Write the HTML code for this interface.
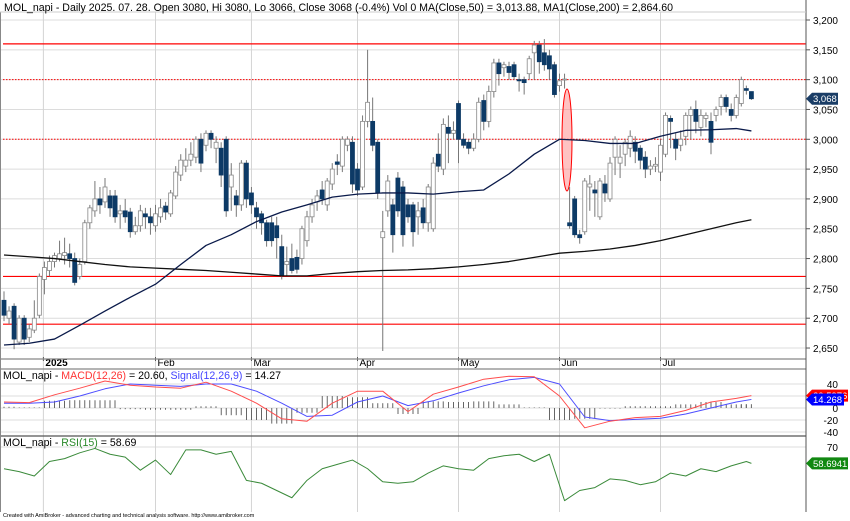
<!DOCTYPE html>
<html><head><meta charset="utf-8">
<style>
body{margin:0;background:#fff;}
svg{display:block;font-family:"Liberation Sans",sans-serif;}
</style></head>
<body>
<svg id="c" width="850" height="521" viewBox="0 0 850 521"></svg>
<script>
const opens=[2730,2700,2720,2660,2700,2668,2680,2705,2765,2780,2795,2800,2805,2808,2800,2770,2795,2860,2880,2900,2895,2905,2905,2875,2880,2878,2845,2855,2875,2870,2855,2870,2888,2875,2905,2940,2955,2965,2970,3000,2990,3010,2985,2985,3000,2920,2905,2890,2960,2910,2885,2875,2860,2860,2855,2820,2790,2800,2802,2800,2830,2870,2895,2915,2890,2925,2962,2955,2990,2995,2950,2920,3030,3030,2995,2835,2880,2890,2935,2920,2890,2890,2870,2885,2860,2850,2975,2950,3020,3010,3060,3000,2995,2985,3000,3065,3030,3080,3128,3120,3122,3125,3100,3100,3110,3145,3158,3145,3140,3125,3090,3100,2860,2900,2840,2845,2920,2915,2870,2925,2900,2970,2960,2975,2985,2995,2985,2970,2950,2955,2945,2975,3035,3000,2990,3005,3040,3050,3020,3035,3030,3040,3055,3070,3050,3040,3060,3085,3080];
const closes=[2705,2712,2665,2700,2665,2682,2700,2770,2785,2795,2805,2808,2810,2800,2760,2790,2860,2885,2900,2890,2920,2885,2870,2880,2870,2845,2855,2880,2870,2860,2875,2885,2878,2910,2945,2965,2965,2975,3000,2960,3010,3000,2995,2940,2880,2940,2890,2960,2900,2890,2870,2860,2830,2830,2835,2772,2795,2780,2782,2850,2870,2890,2905,2900,2930,2950,2958,3000,3000,2925,2915,3030,3062,2990,2910,2845,2930,2840,2880,2840,2870,2845,2880,2860,2920,2960,2955,3025,3010,3015,3000,2990,2985,3000,3062,3030,3080,3128,3110,3125,3112,3105,3098,3095,3135,3158,3130,3125,3118,3075,3098,3101,2855,2840,2835,2930,2925,2910,2930,2910,2960,3000,2970,2995,3005,2980,2965,2950,2955,2958,2990,3040,3030,2985,3000,3040,3050,3030,3040,3040,2995,3050,3070,3055,3040,3070,3100,3082,3068];
const highs=[2745,2720,2725,2705,2705,2690,2730,2775,2795,2805,2810,2830,2835,2825,2810,2800,2865,2890,2930,2920,2935,2915,2915,2890,2900,2885,2870,2890,2885,2885,2890,2900,2895,2915,2955,2975,2985,2995,3005,3010,3015,3015,3005,2995,3005,2960,2915,2965,2965,2920,2895,2880,2865,2870,2870,2840,2820,2825,2815,2855,2880,2900,2915,2930,2935,2960,2975,3005,3005,3005,2960,3040,3150,3070,3000,2880,2940,2900,2945,2930,2900,2895,2895,2900,2925,2970,3010,3035,3040,3030,3065,3010,3000,3010,3070,3075,3090,3135,3135,3130,3130,3130,3110,3105,3140,3165,3165,3168,3150,3130,3110,3110,2920,2905,2848,2935,2940,2930,2935,2940,2970,3005,2990,3000,3015,3005,2990,2980,2965,2970,3000,3045,3040,3010,3015,3045,3055,3065,3050,3045,3045,3055,3075,3075,3060,3075,3105,3090,3080];
const lows=[2695,2690,2648,2655,2655,2660,2675,2700,2740,2770,2785,2795,2790,2785,2755,2765,2790,2850,2870,2875,2885,2870,2860,2850,2860,2835,2840,2845,2850,2840,2845,2860,2865,2870,2900,2930,2945,2955,2960,2945,2980,2985,2960,2920,2870,2880,2870,2880,2885,2875,2850,2840,2820,2820,2800,2765,2770,2775,2775,2790,2820,2860,2880,2890,2880,2915,2940,2945,2980,2910,2905,2915,3020,2980,2900,2645,2870,2810,2870,2820,2860,2820,2840,2850,2845,2845,2945,2940,2960,3000,2960,2985,2975,2980,2995,3015,3020,3070,3090,3105,3100,3100,3080,3075,3100,3100,3110,3115,3100,3070,3080,3085,2850,2835,2825,2840,2880,2870,2865,2895,2895,2940,2935,2955,2970,2960,2950,2935,2940,2945,2930,2970,2985,2965,2980,2990,3000,3010,3005,3020,2975,3030,3040,3045,3030,3035,3055,3075,3066];
// sampled every 5 bars (last = final bar)
const ma50=[2655,2658,2665,2688,2712,2735,2757,2790,2822,2840,2862,2878,2890,2903,2908,2910,2910,2908,2912,2915,2942,2975,3000,2998,2993,2993,3005,3015,3016,3018,3014];
const ma200=[2806,2803,2800,2795,2790,2786,2784,2782,2780,2777,2774,2771,2771,2775,2778,2780,2781,2783,2786,2790,2795,2802,2809,2812,2816,2822,2830,2840,2850,2860,2865];
const macd=[10,9,22,33,45,38,35,33,43,28,8,-18,-22,8,28,28,-6,23,35,48,53,52,20,-33,-22,-16,-14,-4,10,16,20.6];
const signal=[8,8,10,20,32,40,38,36,40,40,28,8,-14,-12,10,20,4,12,25,37,47,51,40,-15,-21,-19,-17,-10,0,10,14.27];
// sampled every 3 bars (last = final bar)
const rsi=[55,53,50,60,62,66,69,65,63,54,61,51,68,68,65,67,47,45,40,35,47,55,58,61,55,46,45,46,52,57,55,54,62,64,65,60,65,33,40,42,48,47,44,46,52,50,55,53,57,60,58.69];
const priceTicks=[3200,3150,3100,3050,3000,2950,2900,2850,2800,2750,2700,2650];
const months=["2025","Feb","Mar","Apr","May","Jun","Jul"];
const monthBars=[8,30,49,70,90,110,130];
const solidLevels=[3160,2770,2690];
const dottedLevels=[3100,3000];

const NS="http://www.w3.org/2000/svg";
const svg=document.getElementById('c');
function mk(tag,attrs,parent){const e=document.createElementNS(NS,tag);for(const k in attrs)e.setAttribute(k,attrs[k]);(parent||svg).appendChild(e);return e;}
const bx=i=>4+i*5.05;
const py=p=>20+(3200-p)*0.5964;
const my=v=>408-v*0.6;
const ry=v=>447+(70-v)*1.45;
const sampIdx=(k,step,n)=>k===n-1?148:k*step;

priceTicks.forEach(p=>{const l=mk('line',{x1:0,x2:806,y1:py(p),y2:py(p),stroke:'#dcdcdc'});});
[40,20,0,-20,-40].forEach(v=>{const l=mk('line',{x1:0,x2:806,y1:my(v),y2:my(v),stroke:'#dcdcdc'});});
mk('line',{x1:0,x2:806,y1:ry(70),y2:ry(70),stroke:'#dcdcdc'});
monthBars.forEach((b,k)=>{const x=bx(b)+(k==0?-1:0);
 const l=mk('line',{x1:x,x2:x,y1:12,y2:512,stroke:'#d4d4d4'});
 const t=mk('text',{x:x+2,y:366,'font-size':10,fill:'#000','font-weight':k==0?'bold':'normal'});t.textContent=months[k];
 mk('line',{x1:x,x2:x,y1:357,y2:361,stroke:'#555'});
});
solidLevels.forEach(p=>{const l=mk('line',{x1:3,x2:806,y1:py(p),y2:py(p),stroke:'#ff0000','stroke-width':1.2});});
dottedLevels.forEach(p=>{const l=mk('line',{x1:3,x2:806,y1:py(p),y2:py(p),stroke:'#ff0000','stroke-width':1,'stroke-dasharray':'1.5,1.5'});});
const el=mk('ellipse',{cx:567,cy:140,rx:5,ry:51,fill:'rgba(255,120,120,0.45)',stroke:'#ff0000','stroke-width':1});

closes.forEach((c,i)=>{const o=opens[i],x=bx(i),up=c>=o;
 const g=mk('g',{});
 mk('line',{x1:x,x2:x,y1:py(highs[i]),y2:py(lows[i]),stroke:'#777'},g);
 const t=py(Math.max(o,c)),h=Math.max(1,py(Math.min(o,c))-t);
 mk('rect',{x:x-2,y:t,width:4,height:h,fill:up?'#fff':'#0d3a66',stroke:up?'#888':'#0d3a66','stroke-width':0.8},g);
});
function poly(arr,step,yf,color,w,name){const pts=arr.map((v,k)=>bx(sampIdx(k,step,arr.length))+','+yf(v)).join(' ');
 const p=mk('polyline',{points:pts,fill:'none',stroke:color,'stroke-width':w,'stroke-linejoin':'round'});}
poly(ma200,5,py,'#111',1.3,'ma200-line');
poly(ma50,5,py,'#0a1a4a',1.3,'ma50-line');
macd.forEach((v,k)=>{const x=bx(sampIdx(k,5,macd.length));const d=v-signal[k];
 for(const dx of [-10,-5,0,5,10]){if(x+dx<2||x+dx>754)continue;const l=mk('line',{x1:x+dx,x2:x+dx,y1:my(0),y2:my(d),stroke:'#666','stroke-width':1});}
});
poly(signal,5,my,'#4d4dff',1,'signal-line');
poly(macd,5,my,'#ff4d4d',1,'macd-line');
poly(rsi,3,ry,'#3a8a3a',1,'rsi-line');
[[359,'#888'],[369,'#888'],[436,'#555']].forEach(([y,c])=>mk('line',{x1:0,x2:806,y1:y,y2:y,stroke:c,'stroke-width':1.3}));
mk('line',{x1:806,x2:806,y1:0,y2:512,stroke:'#555'});
mk('line',{x1:0.5,x2:0.5,y1:12,y2:512,stroke:'#888'});
mk('line',{x1:0,x2:806,y1:12,y2:12,stroke:'#ccc'});
priceTicks.forEach(p=>{mk('line',{x1:806,x2:810,y1:py(p),y2:py(p),stroke:'#555'});
 const t=mk('text',{x:838,y:py(p)+4,'font-size':10,'text-anchor':'end'});t.textContent=p.toLocaleString('en-US');});
[40,0,-20,-40].forEach(v=>{const t=mk('text',{x:838,y:my(v)+4,'font-size':10,'text-anchor':'end'});t.textContent=v;});
{const t=mk('text',{x:838,y:ry(70)+4,'font-size':10,'text-anchor':'end'});t.textContent='70';}
function tag(y,txt,bg,w,name){const g=mk('g',{});
 mk('polygon',{points:`806,${y} 812,${y-6} ${812+w},${y-6} ${812+w},${y+6} 812,${y+6}`,fill:bg},g);
 const t=mk('text',{x:813,y:y+3.5,'font-size':9.5,fill:'#fff'},g);t.textContent=txt;}
tag(py(3068),'3,068','#1a3d66',26,'last-price-tag');
tag(my(20.5976),'20.5976','#ff0000',36,'macd-value-tag');
tag(my(14.268),'14.268','#0000ff',32,'signal-value-tag');
tag(ry(58.6941),'58.6941','#118811',36,'rsi-value-tag');
</script>
<div style="position:absolute;left:4px;top:2px;font:10.6px 'Liberation Sans',sans-serif;white-space:nowrap">MOL_napi - Daily 2025. 07. 28. Open 3080, Hi 3080, Lo 3066, Close 3068 (-0.4%) Vol 0 MA(Close,50) = 3,013.88, MA1(Close,200) = 2,864.60</div>
<div style="position:absolute;left:3px;top:370px;font:10.6px 'Liberation Sans',sans-serif;white-space:nowrap">MOL_napi - <span style="color:#f33">MACD(12,26)</span> = 20.60, <span style="color:#44f">Signal(12,26,9)</span> = 14.27</div>
<div style="position:absolute;left:3px;top:437px;font:10.6px 'Liberation Sans',sans-serif;white-space:nowrap">MOL_napi - <span style="color:#2a8a2a">RSI(15)</span> = 58.69</div>
<div style="position:absolute;left:3px;top:513px;font:5.5px 'Liberation Sans',sans-serif;white-space:nowrap">Created with AmiBroker - advanced charting and technical analysis software. http://www.amibroker.com</div>
</body></html>
